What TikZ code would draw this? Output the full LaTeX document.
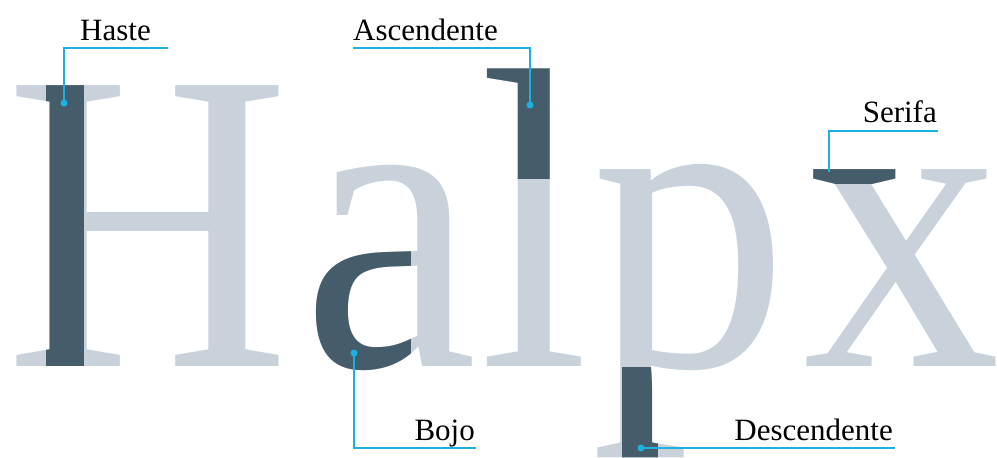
\documentclass[tikz,border=0pt]{standalone}
\usepackage{fontspec}
\setmainfont{Liberation Serif}
\definecolor{letterlight}{HTML}{C9D2DA}
\definecolor{letterdark}{HTML}{455D6B}
\definecolor{leadblue}{HTML}{1BB2E3}
\newcommand\bigletter[1]{\scalebox{0.92}[1]{\fontsize{429}{429}\selectfont #1}}

\tikzset{
  glyph/.style={text=#1, inner sep=0pt, outer sep=0pt, anchor=base west},
  leader/.style={draw=leadblue, line width=1.4pt},
  tip/.style={circle, fill=leadblue, inner sep=0pt, minimum size=7pt},
  tag/.style={font=\fontsize{31}{31}\selectfont, inner sep=0pt, anchor=base east}
}

\begin{document}
\begin{tikzpicture}[x=1pt, y=-1pt]
    \useasboundingbox (0,0) rectangle (997,458);

    % the word, light
    \node[glyph=letterlight] (H) at (5.5,366) {\bigletter{H}};
    \node[glyph=letterlight] (a) at (302,366) {\bigletter{a}};
    \node[glyph=letterlight] (l) at (479.5,366) {\bigletter{l}};
    \node[glyph=letterlight] (p) at (591,366) {\bigletter{p}};
    \node[glyph=letterlight] (x) at (803,366) {\bigletter{x}};

    % the parts, dark
    \begin{scope}
        \clip (46,60) rectangle (83,380);
        \node[glyph=letterdark] (Hstem) at (5.5,366) {\bigletter{H}};
    \end{scope}
    \begin{scope}
        \clip (300,232) rectangle (410,380);
        \node[glyph=letterdark] (abowl) at (302,366) {\bigletter{a}};
    \end{scope}
    \begin{scope}
        \clip (470,40) rectangle (600,178);
        \node[glyph=letterdark] (lasc) at (479.5,366) {\bigletter{l}};
    \end{scope}
    \begin{scope}
        \clip (622,367) rectangle (657,470);
        \node[glyph=letterdark] (pdesc) at (591,366) {\bigletter{p}};
    \end{scope}
    \begin{scope}
        \clip (800,160) rectangle (908,183);
        \node[glyph=letterdark] (xserif) at (803,366) {\bigletter{x}};
    \end{scope}

    % labels
    \node[tag] (haste) at (151,40) {Haste};
    \node[tag, anchor=base west] (asc) at (353,40) {Ascendente};
    \node[tag] (serifa) at (937,122) {Serifa};
    \node[tag] (bojo) at (475,440) {Bojo};
    \node[tag] (desc) at (893,440) {Descendente};

    % leader lines
    \coordinate (hasteEnd) at (168,48);
    \coordinate (ascEnd) at (353,48);
    \coordinate (serifaEnd) at (938,131);
    \coordinate (bojoEnd) at (476,448);
    \coordinate (descEnd) at (895,448);
    \node[tip] (hasteDot) at (64,103) {};
    \node[tip] (ascDot) at (530,105) {};
    \coordinate (serifaFoot) at (829,172);
    \node[tip] (bojoDot) at (354,353) {};
    \node[tip] (descDot) at (641,448) {};

    \draw[leader] (hasteDot.center) |- (hasteEnd);
    \draw[leader] (ascDot.center) |- (ascEnd);
    \draw[leader] (serifaFoot) |- (serifaEnd);
    \draw[leader] (bojoDot.center) |- (bojoEnd);
    \draw[leader] (descDot.center) -- (descEnd);
\end{tikzpicture}
\end{document}
